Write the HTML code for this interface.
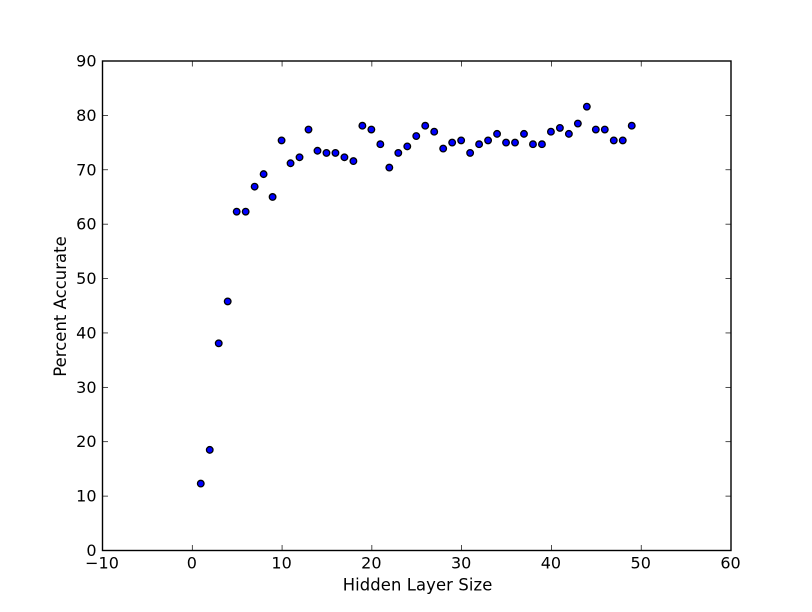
<!DOCTYPE html>
<html lang="en">
<head>
<meta charset="utf-8">
<title>Percent Accurate vs Hidden Layer Size</title>
<style>
html,body{margin:0;padding:0;background:#fff;width:812px;height:612px;overflow:hidden}
svg{display:block}
text{font-family:"DejaVu Sans","Liberation Sans",sans-serif;fill:#000}
.tick-label{font-size:16px}
.axis-title{font-size:16.4px}
</style>
</head>
<body>
<svg id="chart" width="812" height="612" viewBox="0 0 812 612" xmlns="http://www.w3.org/2000/svg">
<rect x="0" y="0" width="812" height="612" fill="#ffffff"></rect>
<g id="marks"></g>
<g id="ticks"></g>
<rect x="102.5" y="61" width="628.5" height="489.5" fill="none" stroke="#000" stroke-width="1.4"></rect>
<text class="axis-title" x="417.5" y="590.5" text-anchor="middle" textLength="149.6">Hidden Layer Size</text>
<text class="axis-title" transform="translate(66 306.5) rotate(-90)" text-anchor="middle" textLength="140.5">Percent Accurate</text>
</svg>
<script>
var hiddenLayerSizes = [1,2,3,4,5,6,7,8,9,10,11,12,13,14,15,16,17,18,19,20,21,22,23,24,25,26,27,28,29,30,31,32,33,34,35,36,37,38,39,40,41,42,43,44,45,46,47,48,49];
var percentAccurate = [12.3,18.5,38.1,45.8,62.3,62.3,66.9,69.2,65.0,75.4,71.2,72.3,77.4,73.5,73.1,73.1,72.3,71.6,78.1,77.4,74.7,70.4,73.1,74.3,76.2,78.1,77.0,73.9,75.0,75.4,73.1,74.7,75.4,76.6,75.0,75.0,76.6,74.7,74.7,77.0,77.7,76.6,78.5,81.6,77.4,77.4,75.4,75.4,78.1];
var xTickLabels = [-10,0,10,20,30,40,50,60];
var yTickLabels = [0,10,20,30,40,50,60,70,80,90];

var NS = 'http://www.w3.org/2000/svg';
var plotLeft = 102.5, plotRight = 731, plotTop = 61, plotBottom = 550.5;
var xMin = -10, xMax = 60, yMin = 0, yMax = 90;
var tickLen = 5.5;
var markerOffsetX = -0.5;

function xScale(v) { return plotLeft + (v - xMin) / (xMax - xMin) * (plotRight - plotLeft); }
function yScale(v) { return plotBottom - (v - yMin) / (yMax - yMin) * (plotBottom - plotTop); }

var marks = document.getElementById('marks');
var ticks = document.getElementById('ticks');

function addTick(x1, y1, x2, y2, name) {
  var l = document.createElementNS(NS, 'line');
  l.setAttribute('x1', x1);
  l.setAttribute('y1', y1);
  l.setAttribute('x2', x2);
  l.setAttribute('y2', y2);
  l.setAttribute('stroke', '#000');
  l.setAttribute('stroke-width', '0.7');
  
  
  ticks.appendChild(l);
}

hiddenLayerSizes.forEach(function (size, i) {
  var c = document.createElementNS(NS, 'circle');
  c.setAttribute('cx', xScale(size) + markerOffsetX);
  c.setAttribute('cy', yScale(percentAccurate[i]));
  c.setAttribute('r', '3.3');
  c.setAttribute('fill', '#0000ff');
  c.setAttribute('stroke', '#000');
  c.setAttribute('stroke-width', '1.3');
  
  
  marks.appendChild(c);
});

xTickLabels.forEach(function (v) {
  var x = xScale(v);
  addTick(x, plotBottom, x, plotBottom - tickLen, 'x-tick-mark');
  addTick(x, plotTop, x, plotTop + tickLen, 'x-tick-mark-top');
  var t = document.createElementNS(NS, 'text');
  t.setAttribute('x', x - 0.5);
  t.setAttribute('y', 568.5);
  t.setAttribute('text-anchor', 'middle');
  t.setAttribute('class', 'tick-label');
  
  
  t.textContent = v < 0 ? '\u2212' + Math.abs(v) : String(v);
  ticks.appendChild(t);
});

yTickLabels.forEach(function (v) {
  var y = yScale(v);
  addTick(plotLeft, y, plotLeft + tickLen, y, 'y-tick-mark');
  addTick(plotRight, y, plotRight - tickLen, y, 'y-tick-mark-right');
  var t = document.createElementNS(NS, 'text');
  t.setAttribute('x', 96.5);
  t.setAttribute('y', y + 5.5);
  t.setAttribute('text-anchor', 'end');
  t.setAttribute('class', 'tick-label');
  
  
  t.textContent = String(v);
  ticks.appendChild(t);
});
</script>
</body>
</html>
